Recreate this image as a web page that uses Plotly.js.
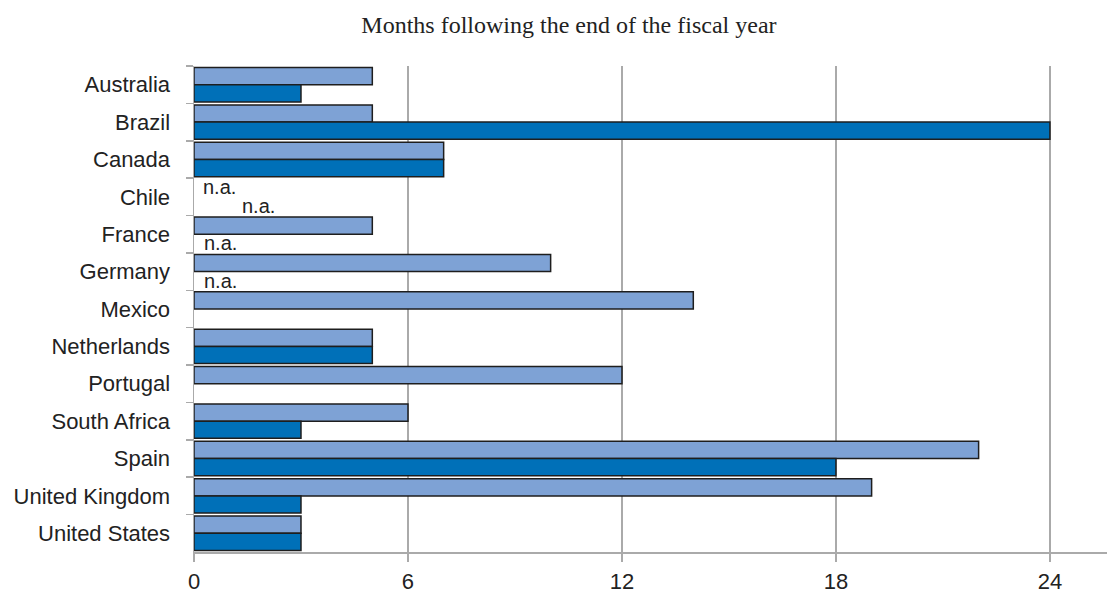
<!DOCTYPE html>
<html>
<head>
<meta charset="utf-8">
<script src="https://cdn.plot.ly/plotly-3.0.1.min.js"></script>
<style>html,body{margin:0;padding:0;background:#fff;}#chart{width:1109px;height:594px;}</style>
</head>
<body>
<div id="chart"></div>
<script>
const categories = ["Australia","Brazil","Canada","Chile","France","Germany","Mexico","Netherlands","Portugal","South Africa","Spain","United Kingdom","United States"];
const seriesLight = [5, 5, 7, null, 5, 10, 14, 5, 12, 6, 22, 19, 3];
const seriesDark  = [3, 24, 7, null, null, null, null, 5, null, 3, 18, 3, 3];
const naLight = ["Chile"];
const naDark = ["Chile", "France", "Germany"];
const xTicks = [0, 6, 12, 18, 24];
const titleText = "Months following the end of the fiscal year";

const barLine = {color: "#1e1e1e", width: 1.5};
const traces = [
  {type: "bar", orientation: "h", y: categories, x: seriesLight, name: "A",
   marker: {color: "#7ea2d5", line: barLine}, hoverinfo: "x+y"},
  {type: "bar", orientation: "h", y: categories, x: seriesDark, name: "B",
   marker: {color: "#0070b8", line: barLine}, hoverinfo: "x+y"}
];

const annFont = {family: "Liberation Sans, Arial, sans-serif", size: 20, color: "#222"};
const annotations = [];
naLight.forEach(c => annotations.push({x: 0, y: c, xref: "x", yref: "y", text: "n.a.", showarrow: false,
  xanchor: "left", yanchor: "middle", xshift: 7, yshift: 10, font: annFont}));
naDark.forEach(c => annotations.push({x: 0, y: c, xref: "x", yref: "y", text: "n.a.", showarrow: false,
  xanchor: "left", yanchor: "middle", xshift: c === "Chile" ? 46 : 8, yshift: -9, font: annFont}));

const layout = {
  width: 1109, height: 594,
  paper_bgcolor: "#fff", plot_bgcolor: "#fff",
  margin: {l: 194, r: 2, t: 66, b: 42},
  barmode: "group", bargap: 0.08, bargroupgap: 0,
  showlegend: false,
  title: {text: titleText, x: 0.513, xref: "container", xanchor: "center", y: 0.958, yref: "container", yanchor: "middle",
          font: {family: "Liberation Serif, Times New Roman, serif", size: 24, color: "#222"}},
  xaxis: {range: [0, 25.6], tickvals: xTicks, ticktext: xTicks.map(String), showgrid: true, gridcolor: "#aaaaaa", gridwidth: 1.5,
          zeroline: false, showline: true, linecolor: "#aaaaaa", linewidth: 1.5,
          ticks: "outside", ticklen: 8, tickcolor: "#aaaaaa", tickwidth: 1.5,
          tickfont: {family: "Liberation Sans, Arial, sans-serif", size: 22, color: "#222"}, ticklabelstandoff: 1},
  yaxis: {type: "category", autorange: "reversed", showline: true, linecolor: "#aaaaaa", linewidth: 1.5,
          ticks: "outside", ticklen: 7, tickcolor: "#aaaaaa", tickwidth: 1.5, tickson: "boundaries",
          showgrid: false, zeroline: false,
          tickfont: {family: "Liberation Sans, Arial, sans-serif", size: 22, color: "#222"}, ticklabelstandoff: 18},
  annotations: annotations
};

Plotly.newPlot("chart", traces, layout, {displayModeBar: false, staticPlot: true});
</script>
</body>
</html>
